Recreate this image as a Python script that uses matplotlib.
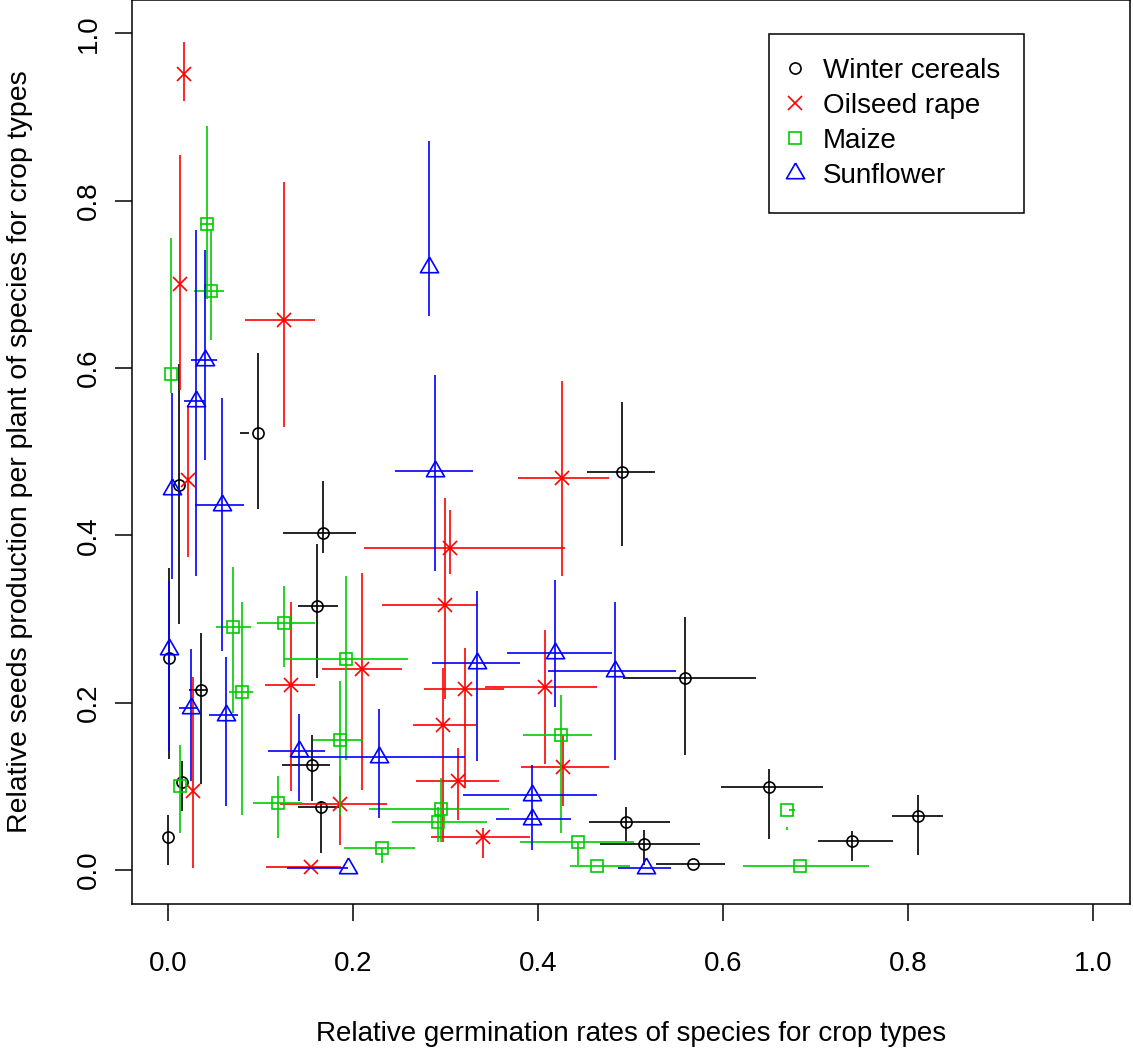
import matplotlib
matplotlib.use("Agg")
import matplotlib.pyplot as plt
from matplotlib.lines import Line2D

plt.rcParams['font.family'] = ['Liberation Sans', 'DejaVu Sans']

# Winter cereals: point, x interval, y interval
wc_x = [0.000, 0.001, 0.011, 0.035, 0.015, 0.097, 0.167, 0.161, 0.155, 0.165, 0.491, 0.559, 0.650, 0.739, 0.811, 0.495, 0.514, 0.567]
wc_y = [0.040, 0.254, 0.460, 0.215, 0.105, 0.523, 0.403, 0.316, 0.125, 0.075, 0.476, 0.230, 0.099, 0.035, 0.064, 0.057, 0.031, 0.007]
wc_xlo = [0.000, 0.001, 0.011, 0.022, 0.015, 0.077, 0.124, 0.140, 0.123, 0.140, 0.453, 0.492, 0.598, 0.703, 0.783, 0.455, 0.467, 0.527]
wc_xhi = [0.000, 0.001, 0.011, 0.042, 0.015, 0.087, 0.203, 0.183, 0.175, 0.184, 0.526, 0.636, 0.708, 0.784, 0.838, 0.542, 0.575, 0.602]
wc_ylo = [0.006, 0.133, 0.294, 0.103, 0.071, 0.431, 0.379, 0.230, 0.083, 0.020, 0.387, 0.138, 0.037, 0.011, 0.018, 0.034, 0.006, 0.007]
wc_yhi = [0.066, 0.361, 0.605, 0.283, 0.130, 0.618, 0.465, 0.390, 0.161, 0.083, 0.559, 0.303, 0.121, 0.047, 0.090, 0.075, 0.048, 0.007]

# Oilseed rape
or_x = [0.017, 0.012, 0.125, 0.021, 0.027, 0.132, 0.209, 0.185, 0.154, 0.299, 0.305, 0.321, 0.297, 0.313, 0.340, 0.426, 0.407, 0.427]
or_y = [0.951, 0.701, 0.657, 0.466, 0.095, 0.221, 0.240, 0.079, 0.004, 0.317, 0.385, 0.216, 0.173, 0.106, 0.040, 0.469, 0.219, 0.123]
or_xlo = [0.017, 0.012, 0.083, 0.021, 0.027, 0.104, 0.166, 0.121, 0.106, 0.231, 0.211, 0.276, 0.264, 0.268, 0.284, 0.378, 0.342, 0.381]
or_xhi = [0.017, 0.012, 0.158, 0.021, 0.027, 0.158, 0.253, 0.236, 0.187, 0.335, 0.429, 0.363, 0.333, 0.357, 0.391, 0.476, 0.464, 0.477]
or_ylo = [0.919, 0.574, 0.530, 0.374, 0.002, 0.095, 0.096, 0.030, 0.004, 0.204, 0.354, 0.098, 0.034, 0.060, 0.014, 0.352, 0.127, 0.077]
or_yhi = [0.990, 0.855, 0.822, 0.554, 0.231, 0.320, 0.355, 0.112, 0.004, 0.445, 0.430, 0.266, 0.242, 0.146, 0.050, 0.585, 0.287, 0.162]

# Maize
mz_x = [0.042, 0.046, 0.003, 0.070, 0.079, 0.125, 0.192, 0.185, 0.118, 0.012, 0.231, 0.295, 0.292, 0.425, 0.443, 0.463, 0.669, 0.683]
mz_y = [0.772, 0.692, 0.593, 0.291, 0.213, 0.295, 0.252, 0.156, 0.080, 0.101, 0.026, 0.073, 0.058, 0.161, 0.034, 0.005, 0.072, 0.005]
mz_xlo = [0.034, 0.028, 0.003, 0.051, 0.065, 0.096, 0.125, 0.156, 0.091, 0.012, 0.190, 0.217, 0.242, 0.383, 0.380, 0.434, 0.671, 0.621]
mz_xhi = [0.048, 0.060, 0.003, 0.089, 0.091, 0.159, 0.259, 0.210, 0.144, 0.012, 0.267, 0.368, 0.345, 0.458, 0.503, 0.499, 0.678, 0.758]
mz_ylo = [0.682, 0.634, 0.570, 0.188, 0.066, 0.243, 0.132, 0.066, 0.038, 0.044, 0.009, 0.034, 0.034, 0.044, 0.006, 0.005, 0.048, 0.005]
mz_yhi = [0.889, 0.766, 0.756, 0.362, 0.320, 0.340, 0.351, 0.226, 0.112, 0.150, 0.026, 0.110, 0.075, 0.209, 0.034, 0.005, 0.051, 0.005]

# Sunflower
sf_x = [0.282, 0.040, 0.030, 0.004, 0.001, 0.058, 0.024, 0.062, 0.288, 0.334, 0.141, 0.228, 0.194, 0.418, 0.483, 0.393, 0.393, 0.516]
sf_y = [0.721, 0.610, 0.561, 0.455, 0.264, 0.436, 0.194, 0.185, 0.477, 0.248, 0.142, 0.135, 0.002, 0.260, 0.238, 0.090, 0.061, 0.002]
sf_xlo = [0.282, 0.024, 0.017, 0.004, 0.001, 0.029, 0.011, 0.044, 0.245, 0.285, 0.108, 0.132, 0.128, 0.366, 0.411, 0.319, 0.354, 0.486]
sf_xhi = [0.282, 0.053, 0.039, 0.004, 0.001, 0.082, 0.032, 0.075, 0.329, 0.380, 0.169, 0.321, 0.194, 0.480, 0.549, 0.464, 0.435, 0.544]
sf_ylo = [0.662, 0.490, 0.351, 0.348, 0.142, 0.262, 0.107, 0.077, 0.357, 0.130, 0.083, 0.062, 0.002, 0.195, 0.132, 0.065, 0.024, 0.002]
sf_yhi = [0.872, 0.741, 0.765, 0.570, 0.346, 0.564, 0.264, 0.255, 0.592, 0.334, 0.187, 0.193, 0.002, 0.347, 0.320, 0.126, 0.070, 0.002]

ticks = [0.0, 0.2, 0.4, 0.6, 0.8, 1.0]
tick_labels = ["0.0", "0.2", "0.4", "0.6", "0.8", "1.0"]

# equilateral triangle centred on its centroid
tri = [(0.0, 1.0), (-0.866, -0.5), (0.866, -0.5), (0.0, 1.0)]

series = [
    ("Winter cereals", "black", "o", 8, wc_x, wc_y, wc_xlo, wc_xhi, wc_ylo, wc_yhi),
    ("Oilseed rape", "#FF0000", "x", 9.5, or_x, or_y, or_xlo, or_xhi, or_ylo, or_yhi),
    ("Maize", "#00CD00", "s", 9, mz_x, mz_y, mz_xlo, mz_xhi, mz_ylo, mz_yhi),
    ("Sunflower", "#0000FF", tri, 15, sf_x, sf_y, sf_xlo, sf_xhi, sf_ylo, sf_yhi),
]

W, H = 1133, 1050
fig = plt.figure(figsize=(W / 100, H / 100), dpi=100)
ax = fig.add_axes([131.5 / W, 1 - 903.5 / H, 998.5 / W, 903.5 / H])

lw = 1.2
handles = []
for name, col, mk, ms, x, y, xlo, xhi, ylo, yhi in series:
    ax.vlines(x, ylo, yhi, colors=col, linewidth=lw)
    ax.hlines(y, xlo, xhi, colors=col, linewidth=lw)
    ax.plot(x, y, linestyle="none", marker=mk, markersize=ms, markerfacecolor="none",
            markeredgecolor=col, markeredgewidth=lw)
    handles.append(Line2D([], [], linestyle="none", marker=mk, markersize=ms,
                          markerfacecolor="none", markeredgecolor=col,
                          markeredgewidth=lw, label=name))

ax.set_xlim(-0.04, 1.04)
ax.set_ylim(-0.04, 1.04)
ax.set_xticks(ticks)
ax.set_xticklabels(tick_labels)
ax.set_yticks(ticks)
ax.set_yticklabels(tick_labels, rotation=90, va="center")
ax.tick_params(axis="both", direction="out", length=12, width=1.1, labelsize=20)
ax.tick_params(axis="x", pad=22)
ax.tick_params(axis="y", pad=9)
for sp in ax.spines.values():
    sp.set_linewidth(1.1)

leg = ax.legend(handles=handles, loc="upper left", bbox_to_anchor=(0.6385, 0.9624),
                fontsize=20, frameon=True, fancybox=False, framealpha=1,
                edgecolor="black", borderpad=0.85, handlelength=0.2,
                handletextpad=0.88, labelspacing=0.33, borderaxespad=0)
leg.get_frame().set_linewidth(1.1)

fig.text(631 / W, 1 - 1041 / H, "Relative germination rates of species for crop types",
         fontsize=20, ha="center", va="baseline")
fig.text(27 / W, 1 - 451.5 / H, "Relative seeds production per plant of species for crop types",
         fontsize=20.5, ha="center", va="baseline", rotation=90, rotation_mode="anchor")

fig.savefig("out.png", dpi=100)
